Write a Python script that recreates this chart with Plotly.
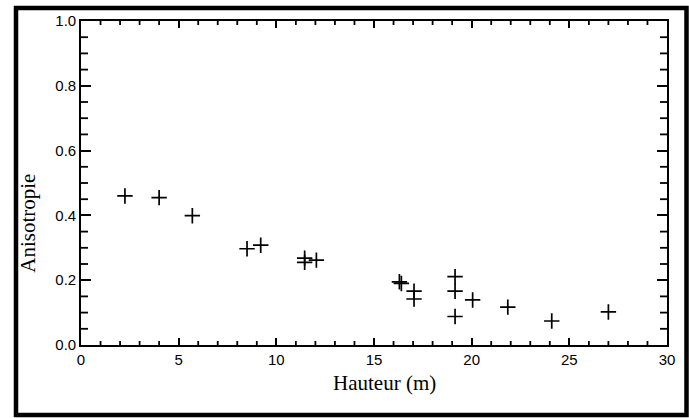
import plotly.graph_objects as go

# Measurements: height above ground (m) and anisotropy ratio
hauteur = [2.25, 4.0, 5.7, 8.5, 9.2, 11.45, 11.45, 12.05, 16.3, 16.4,
           17.05, 17.05, 19.15, 19.15, 19.15, 20.05, 21.85, 24.1, 27.0]
anisotropie = [0.460, 0.455, 0.399, 0.297, 0.308, 0.268, 0.255, 0.262, 0.195, 0.190,
               0.166, 0.142, 0.211, 0.166, 0.088, 0.139, 0.117, 0.074, 0.102]

x_range = [0, 30]
y_range = [0.0, 1.0]
x_major, x_minor = 5, 1
y_major, y_minor = 0.2, 0.05
x_title = "Hauteur (m)"
y_title = "Anisotropie"

fig = go.Figure()
fig.add_trace(go.Scatter(
    x=hauteur, y=anisotropie, mode="markers",
    marker=dict(symbol="cross-thin", size=11, color="black",
                line=dict(color="black", width=1.7)),
    hoverinfo="x+y", showlegend=False,
))

tick_font = dict(family="Liberation Sans, Arial, sans-serif", size=15, color="black")
title_font = dict(family="Liberation Serif, Times New Roman, serif", size=21, color="black")

common = dict(showgrid=False, zeroline=False, showline=True, linecolor="black",
              linewidth=1.6, mirror="ticks", tickcolor="black", ticks="inside",
              tickmode="linear", tickfont=tick_font)

fig.update_layout(
    xaxis=dict(range=x_range, tick0=0, dtick=x_major, ticklen=7, tickwidth=1.8, **common),
    yaxis=dict(range=y_range, tick0=0, dtick=y_major, tickformat=".1f",
               ticklen=10, tickwidth=1.8, **common),
)

# Minor ticks on all four sides, pointing into the plot
tick_line = dict(color="black", width=1.8)
n_x = int(round((x_range[1] - x_range[0]) / x_minor))
for i in range(n_x + 1):
    v = x_range[0] + i * x_minor
    if abs(v / x_major - round(v / x_major)) < 1e-9:
        continue
    for base, sign in ((0, 1), (1, -1)):
        fig.add_shape(type="line", xref="x", yref="y domain", ysizemode="pixel",
                      yanchor=base, x0=v, x1=v, y0=0, y1=sign * 4, line=tick_line)
n_y = int(round((y_range[1] - y_range[0]) / y_minor))
for i in range(n_y + 1):
    v = y_range[0] + i * y_minor
    if abs(v / y_major - round(v / y_major)) < 1e-9:
        continue
    for base, sign in ((0, 1), (1, -1)):
        fig.add_shape(type="line", xref="x domain", yref="y", xsizemode="pixel",
                      xanchor=base, y0=v, y1=v, x0=0, x1=sign * 7, line=tick_line)

# Pixel helpers for placing decorations in paper coordinates
L, R, T, B, W, H = 81, 22, 19, 73, 689, 418
pw, ph = W - L - R, H - T - B
def px_x(p):
    return (p - L) / pw
def px_y(p):
    return (H - B - p) / ph

fig.add_annotation(text=x_title, xref="paper", yref="paper",
                   x=px_x(384), y=px_y(383), showarrow=False, font=title_font,
                   xanchor="center", yanchor="middle")
fig.add_annotation(text=y_title, xref="paper", yref="paper", textangle=-90,
                   x=px_x(28), y=px_y(223), showarrow=False, font=title_font,
                   xanchor="center", yanchor="middle")

# Outer black frame around the whole figure
fig.add_shape(type="rect", xref="paper", yref="paper",
              x0=px_x(16), x1=px_x(686.5), y0=px_y(6), y1=px_y(415.5),
              line=dict(color="black", width=4.5), layer="above")

fig.update_layout(
    width=W, height=H,
    margin=dict(l=L, r=R, t=T, b=B),
    paper_bgcolor="white", plot_bgcolor="white",
)

fig.write_html("out.html")
